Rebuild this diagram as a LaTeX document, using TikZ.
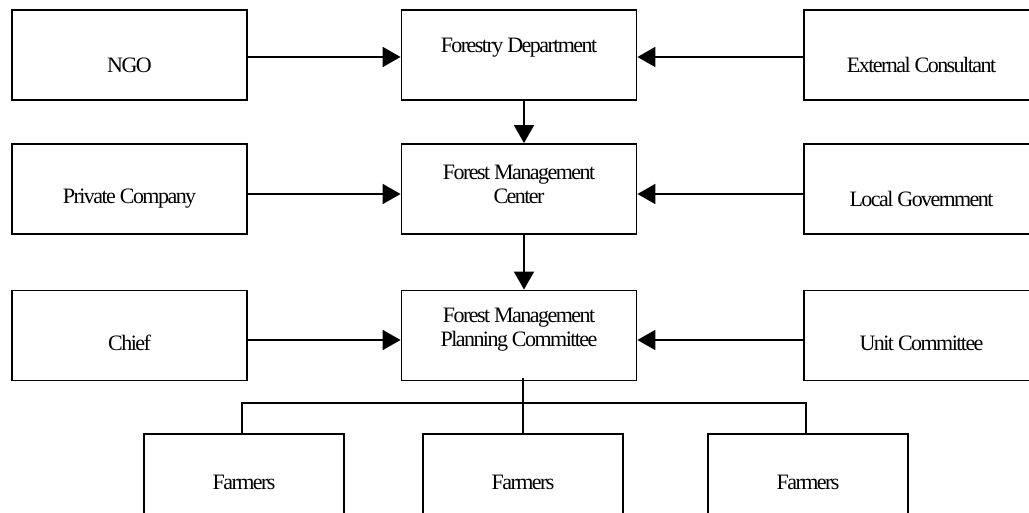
\documentclass[tikz,border=0pt]{standalone}
\usepackage{fontspec}
\setmainfont{Liberation Serif}[LetterSpace=-7]
\usepackage{tikz}
\usetikzlibrary{positioning,arrows.meta,calc}

\begin{document}
\begin{tikzpicture}[x=1pt, y=-1pt, line width=1.8pt,
  >={Triangle[length=18pt, width=20pt]},
  box/.style={draw, minimum width=235pt, minimum height=90pt, inner sep=0pt},
  fbox/.style={draw, minimum width=200pt, minimum height=90pt, inner sep=0pt},
  txt/.style={inner sep=0pt, align=center, font=\fontsize{22}{24}\selectfont}]
\clip (0,0) rectangle (1029,513);
% boxes: left, centre and right columns
\foreach \n/\x/\y in {ngo/129.5/55, pc/129.5/189, chief/129.5/335.5,
                      fd/519/55, fmc/519/189, fmpc/519/335.5,
                      ec/921.5/55, lg/921.5/189, uc/921.5/335.5}{
  \node[box] (\n) at (\x,\y) {};
}
\foreach \n/\x in {f1/244, f2/523, f3/808}{
  \node[fbox] (\n) at (\x,479) {};
}
% texts
\node[txt] (ngo-t) at ([yshift=-10pt]ngo.center) {NGO};
\node[txt] (fd-t) at ([yshift=7pt]fd.center) {Forestry Department};
\node[txt] (ec-t) at ([yshift=-10pt]ec.center) {External Consultant};
\node[txt] (pc-t) at ([yshift=-10pt]pc.center) {Private Company};
\node[txt] (fmc-t) at ([yshift=4.5pt]fmc.center) {Forest Management\\Center};
\node[txt] (lg-t) at ([yshift=-10pt]lg.center) {Local Government};
\node[txt] (chief-t) at ([yshift=-7.5pt]chief.center) {Chief};
\node[txt] (fmpc-t) at ([yshift=5.5pt]fmpc.center) {Forest Management\\Planning Committee};
\node[txt] (uc-t) at ([yshift=-7.5pt]uc.center) {Unit Committee};
\foreach \n in {f1,f2,f3}{
  \node[txt] (\n-t) at ([yshift=-3pt]\n.center) {Farmers};
}
% connectors
\draw[->] ([yshift=-2pt]ngo.east) -- ([yshift=-2pt]fd.west);
\draw[->] ([yshift=-2pt]ec.west) -- ([yshift=-2pt]fd.east);
\draw[->] ([yshift=-5pt]pc.east) -- ([yshift=-5pt]fmc.west);
\draw[->] ([yshift=-5pt]lg.west) -- ([yshift=-5pt]fmc.east);
\draw[->] ([yshift=-4.5pt]chief.east) -- ([yshift=-4.5pt]fmpc.west);
\draw[->] ([yshift=-4.5pt]uc.west) -- ([yshift=-4.5pt]fmpc.east);
\draw[->] ([xshift=5pt]fd.south) -- ([xshift=5pt]fmc.north);
\draw[->] ([xshift=5pt]fmc.south) -- ([xshift=5pt]fmpc.north);
\draw ([yshift=3pt]fmpc.south -| f2.north) -- (f2.north);
\draw ([xshift=-2pt]f1.north) -- ++(0,-30) -| ([xshift=-2pt]f3.north);
\end{tikzpicture}
\end{document}
